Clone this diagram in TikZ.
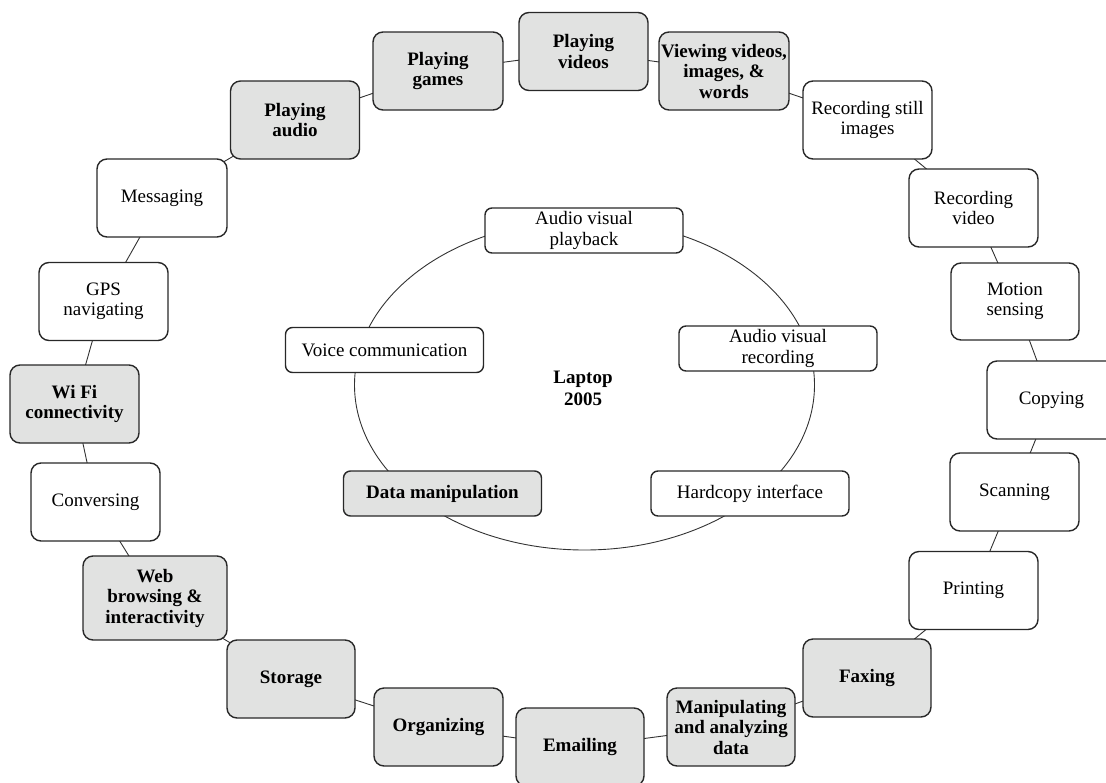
\documentclass[tikz,border=0pt]{standalone}
\usepackage{fontspec}
\setmainfont{Liberation Serif}
\pgfdeclarelayer{bg}
\pgfsetlayers{bg,main}
\definecolor{boxline}{RGB}{40,40,40}
\definecolor{boxgray}{RGB}{225,226,225}
\definecolor{linegray}{RGB}{50,50,50}
\tikzset{
  box/.style={draw=boxline, line width=1.4pt, rounded corners=10pt, fill=white,
    align=center, inner sep=0pt, minimum width=129pt, minimum height=78pt,
    font=\fontsize{19}{20.5}\selectfont},
  gbox/.style={box, fill=boxgray, font=\bfseries\fontsize{19}{20.5}\selectfont},
  ibox/.style={box, rounded corners=7pt, minimum width=198pt, minimum height=45pt},
  gibox/.style={gbox, rounded corners=7pt, minimum width=198pt, minimum height=45pt},
  conn/.style={draw=linegray, line width=0.9pt}
}
\begin{document}
\begin{tikzpicture}[x=1pt, y=-1pt]
\useasboundingbox (0,0) rectangle (1106,782);
% inner ring
\draw[conn] (584.5,385) ellipse [x radius=230pt, y radius=165pt];
% outer ring nodes
\node[gbox] (audio) at (295,120) {Playing\\audio};
\node[gbox, minimum width=130pt] (games) at (438,71) {Playing\\games};
\node[gbox] (videos) at (583.5,51.5) {Playing\\videos};
\node[gbox, minimum width=130pt] (viewing) at (724,71) {Viewing videos,\\images, \&\\words};
\node[box] (recstill) at (867.5,120) {Recording still\\images};
\node[box] (recvideo) at (973.5,208) {Recording\\video};
\node[box, minimum width=128pt, minimum height=77pt] (motion) at (1015,301.5) {Motion\\sensing};
\node[box] (copying) at (1051.5,400) {Copying};
\node[box] (scanning) at (1014.5,492) {Scanning};
\node[box] (printing) at (973.5,590.5) {Printing};
\node[gbox, minimum width=128pt] (faxing) at (867,678) {Faxing};
\node[gbox, minimum width=128pt] (manip) at (731,727) {Manipulating\\and analyzing\\data};
\node[gbox, minimum width=128pt] (emailing) at (580,747) {Emailing};
\node[gbox] (organizing) at (438.5,727) {Organizing};
\node[gbox, minimum width=128pt] (storage) at (291,679) {Storage};
\node[gbox, minimum width=144pt, minimum height=84pt] (web) at (155,598) {Web\\browsing \&\\interactivity};
\node[box] (conversing) at (95.5,502) {Conversing};
\node[gbox] (wifi) at (74.5,404) {Wi Fi\\connectivity};
\node[box] (gps) at (103.5,301.5) {GPS\\navigating};
\node[box, minimum width=130pt] (messaging) at (162,198) {Messaging};
% inner nodes
\node[ibox] (playback) at (584,230.5) {Audio visual\\playback};
\node[ibox] (voice) at (384.5,350) {Voice communication};
\node[ibox] (avrec) at (778,348.5) {Audio visual\\recording};
\node[gibox] (datam) at (442.5,493.5) {Data manipulation};
\node[ibox] (hardcopy) at (750,493.5) {Hardcopy interface};
\node[font=\bfseries\fontsize{19}{22}\selectfont, align=center] (laptop) at (583,388) {Laptop\\2005};
% outer connectors
\begin{pgfonlayer}{bg}
\foreach \a/\b in {audio/games, games/videos, videos/viewing, viewing/recstill,
  recstill/recvideo, recvideo/motion, motion/copying, copying/scanning,
  scanning/printing, printing/faxing, faxing/manip, manip/emailing,
  emailing/organizing, organizing/storage, storage/web, web/conversing,
  conversing/wifi, wifi/gps, gps/messaging, messaging/audio}
  \draw[conn] (\a.center) -- (\b.center);
\end{pgfonlayer}
\end{tikzpicture}
\end{document}
